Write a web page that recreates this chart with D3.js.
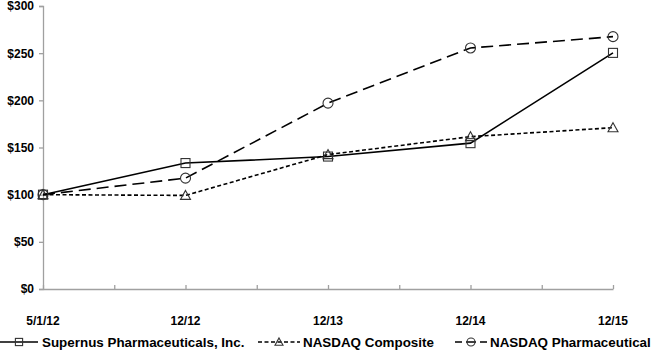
<!DOCTYPE html>
<html>
<head>
<meta charset="utf-8">
<style>
  body { margin: 0; background: #fff; }
  svg text { font-family: "Liberation Sans", Arial, sans-serif; font-weight: bold; font-size: 12px; fill: #000; }
</style>
<script src="https://d3js.org/d3.v7.min.js"></script>
</head>
<body>
<svg width="655" height="350"></svg>
<script>
var dates = ["5/1/12", "12/12", "12/13", "12/14", "12/15"];
var supernus = [100, 133.5, 140.4, 154.6, 250.3];
var composite = [100, 99.2, 142.5, 161.5, 171];
var pharma = [100, 117.5, 197, 255.5, 267.5];
var yTicks = [0, 50, 100, 150, 200, 250, 300];

var series = [
  {name: "Supernus Pharmaceuticals, Inc.", values: supernus, dash: null, legendDash: null, marker: "square"},
  {name: "NASDAQ Composite", values: composite, dash: "4,2.5", legendDash: "4,2.5", marker: "triangle"},
  {name: "NASDAQ Pharmaceutical", values: pharma, dash: "12,6", legendDash: "7,4,10,4,7", marker: "circle"}
];

var svg = d3.select("svg");
var plotLeft = 43, plotRight = 613, plotTop = 6, plotBottom = 289;

var x = d3.scalePoint().domain(dates).range([plotLeft, plotRight]);
var y = d3.scaleLinear().domain([0, 300]).range([plotBottom, plotTop]);
// half-step ticks along the x axis
var xt = d3.scaleLinear().domain([0, 8]).range([plotLeft, plotRight]);

var axisColor = "#a0a0a0";

// y axis
var gy = svg.append("g").attr("transform", "translate(" + plotLeft + ",0)")
  .call(d3.axisLeft(y).tickValues(yTicks).tickSize(4).tickPadding(5).tickFormat(function(d) { return "$" + d; }));
gy.select(".domain").attr("stroke", axisColor).attr("stroke-width", 1.3);
gy.selectAll(".tick line").attr("stroke", axisColor).attr("stroke-width", 1.3);
gy.selectAll("text").attr("font-size", null).attr("font-family", null);

// x axis
var gx = svg.append("g").attr("transform", "translate(0," + plotBottom + ")")
  .call(d3.axisBottom(xt).tickValues(d3.range(9)).tickSizeInner(-4).tickSizeOuter(0).tickFormat(""));
gx.select(".domain").attr("stroke", axisColor).attr("stroke-width", 1.3);
gx.selectAll(".tick line").attr("stroke", axisColor).attr("stroke-width", 1.3);

svg.selectAll(".xlab").data(dates).enter().append("text")
  .attr("class", "xlab")
  .attr("x", function(d) { return x(d); })
  .attr("y", 325)
  .attr("text-anchor", "middle")
  .text(function(d) { return d; });

var line = d3.line()
  .x(function(d, i) { return x(dates[i]); })
  .y(function(d) { return y(d); });

function drawMarker(g, type, cx, cy, k) {
  if (type === "square") {
    g.append("rect").attr("x", cx - 4.5 * k).attr("y", cy - 4.5 * k).attr("width", 9 * k).attr("height", 9 * k)
      .attr("fill", "none").attr("stroke", "#333").attr("stroke-width", 1.1);
  } else if (type === "triangle") {
    g.append("path").attr("d", "M" + cx + "," + (cy - 5 * k) + "L" + (cx + 5 * k) + "," + (cy + 4 * k) + "L" + (cx - 5 * k) + "," + (cy + 4 * k) + "Z")
      .attr("fill", "none").attr("stroke", "#333").attr("stroke-width", 1.1);
  } else {
    g.append("circle").attr("cx", cx).attr("cy", cy).attr("r", 5 * k)
      .attr("fill", "none").attr("stroke", "#333").attr("stroke-width", 1.1);
  }
}

series.forEach(function(s) {
  var g = svg.append("g");
  g.append("path").datum(s.values)
    .attr("d", line)
    .attr("fill", "none")
    .attr("stroke", "#000")
    .attr("stroke-width", 1.6)
    .attr("stroke-dasharray", s.dash);
  s.values.forEach(function(v, i) {
    drawMarker(g, s.marker, x(dates[i]), y(v), 1);
  });
});

// legend
var legendY = 342;
var legend = [
  {x0: 0, x1: 38, tx: 42},
  {x0: 258, x1: 300, tx: 303},
  {x0: 455, x1: 487, tx: 490}
];
series.forEach(function(s, i) {
  var l = legend[i];
  var g = svg.append("g");
  g.append("line").attr("x1", l.x0).attr("x2", l.x1).attr("y1", legendY).attr("y2", legendY)
    .attr("stroke", "#000").attr("stroke-width", 1.6).attr("stroke-dasharray", s.legendDash);
  drawMarker(g, s.marker, (l.x0 + l.x1) / 2, legendY, 0.8);
  g.append("text").attr("x", l.tx).attr("y", legendY + 5).style("font-size", "13.4px").text(s.name);
});
</script>
</body>
</html>
